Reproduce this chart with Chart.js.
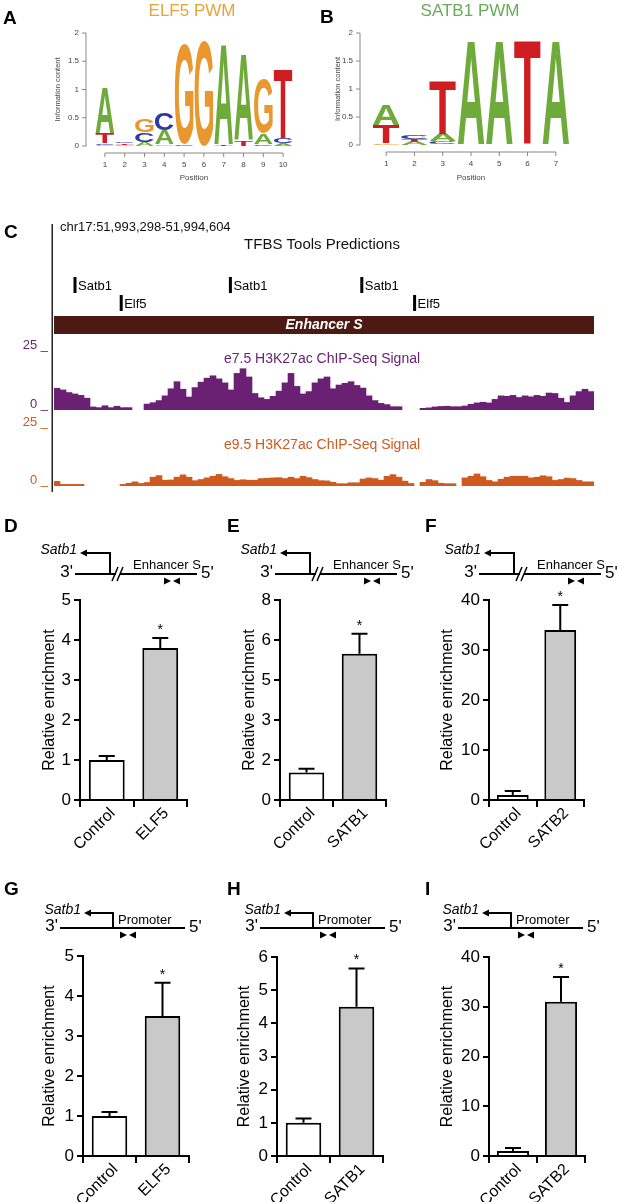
<!DOCTYPE html>
<html>
<head>
<meta charset="utf-8">
<script src="https://cdn.jsdelivr.net/npm/chart.js@4.4.1/dist/chart.umd.min.js"></script>
<style>
  html, body { margin: 0; padding: 0; background: #fff; }
  #fig { position: relative; width: 620px; height: 1202px; overflow: hidden; }
  #fig canvas { position: absolute; left: 0; top: 0; }
</style>
</head>
<body>
<div id="fig"></div>
<script>
const FONT = "'Liberation Sans', Arial, sans-serif";

// ---- A / B: position weight matrices, [bottom, top] in bits for each letter ----
const logoLetters = ['A', 'C', 'G', 'T'];
const logoColors = { A: '#6fab3a', C: '#2f3b9e', G: '#e8982e', T: '#cf1d22' };
const logoTicks = [0, 0.5, 1, 1.5, 2];
const logoTickLabels = ['0', '0.5', '1', '1.5', '2'];

const elf5Positions = ['1', '2', '3', '4', '5', '6', '7', '8', '9', '10'];
const elf5A = [[0.23, 1.03], null, [0, 0.06], [0.03, 0.27], null, null, [0.03, 1.8], [0.1, 1.62], [0.03, 0.22], [0, 0.05]];
const elf5C = [[0.02, 0.04], [0.05, 0.08], [0.07, 0.23], [0.28, 0.58], [0, 0.02], null, null, null, [0, 0.03], [0.06, 0.14]];
const elf5G = [[0, 0.02], [0, 0.02], [0.24, 0.46], [0, 0.03], [0.02, 1.79], [0, 1.86], null, null, [0.23, 1.19], null];
const elf5T = [[0.05, 0.22], [0.02, 0.05], null, null, null, null, [0, 0.03], [0, 0.1], null, [0.15, 1.37]];

const satb1Positions = ['1', '2', '3', '4', '5', '6', '7'];
const satb1A = [[0.36, 0.73], [0, 0.06], [0.07, 0.2], [0.02, 1.88], [0.02, 1.88], null, [0.02, 1.88]];
const satb1C = [null, [0.1, 0.16], [0.02, 0.07], null, null, null, null];
const satb1G = [[0, 0.03], null, null, null, null, null, null];
const satb1T = [[0.03, 0.35], [0.06, 0.1], [0.2, 1.16], null, null, [0.02, 1.88], null];

// ---- C: H3K27ac signal, 90 bins across chr17:51,993,298-51,994,604 ----
const e75Signal = [9.2, 8.5, 7.4, 6.8, 6.2, 5.0, 1.3, 1.0, 1.8, 1.0, 1.6, 1.0, 1.0, null, null,
  2.5, 3.1, 4.0, 6.0, 9.0, 12.0, 8.8, 5.5, 9.5, 11.8,
  13.5, 14.5, 13.2, 11.5, 8.5, 15.5, 17.5, 14.0, 7.0, 5.2,
  4.5, 5.8, 8.0, 11.5, 15.5, 10.0, 6.8, 7.8, 11.5, 13.2,
  14.0, 9.0, 10.6, 11.3, 12.0, 10.4, 9.3, 6.0, 4.0, 2.8,
  2.3, 1.4, 1.4, null, null, null,
  0.7, 0.9, 1.3, 1.5, 1.6, 1.4, 1.4, 1.7, 2.4,
  3.0, 3.3, 3.0, 4.5, 6.0, 5.8, 6.2, 5.3, 6.0, 5.6,
  6.2, 5.8, 7.2, 7.0, 5.0, 3.2, 6.0, 7.8, 8.8, 7.8];
const e95Signal = [2.0, 0.7, 0.7, 0.7, 0.7, null, null, null, null, null, null,
  0.7, 1.2, 1.8, 1.1,
  1.5, 3.8, 4.5, 2.5, 2.6, 3.8, 4.8, 3.8, 2.3, 2.8,
  3.5, 4.2, 5.0, 4.0, 3.2, 2.4, 2.7, 2.5, 2.5, 3.2,
  3.3, 3.5, 3.6, 3.2, 3.8, 3.2, 4.2, 3.6, 2.8, 2.3,
  2.2, 1.6, 1.0, 1.0, 1.4, 1.4, 3.0, 3.5, 3.2, 2.5,
  4.2, 4.9, 3.8, 2.1, 1.1, null,
  1.6, 2.8, 2.3, 1.2, 1.0, 1.0, null,
  3.5, 4.2, 5.2, 4.0, 2.4, 1.8, 2.9, 3.8, 4.2, 4.2, 4.2, 3.5,
  3.8, 4.4, 4.0, 2.4, 2.8, 3.4, 3.2, 2.4, 1.8, 1.8];
const trackBins = e75Signal.map((v, i) => String(i));
const siteNames = ['Satb1', 'Elf5', 'Satb1', 'Satb1', 'Elf5'];
const siteBins = [3.0, 10.7, 28.9, 50.8, 59.6];
const siteRows = [0, 1, 0, 0, 1];

// ---- D-I: ChIP-qPCR relative enrichment ----
const dLabels = ['Control', 'ELF5'];
const dValues = [1.0, 3.8];
const dErrors = [0.1, 0.25];
const dTicks = [0, 1, 2, 3, 4, 5];
const dTickLabels = ['0', '1', '2', '3', '4', '5'];

const eLabels = ['Control', 'SATB1'];
const eValues = [1.1, 5.85];
const eErrors = [0.15, 0.8];
const eTicks = [0, 1.6, 3.2, 4.8, 6.4, 8];
const eTickLabels = ['0', '2', '3', '5', '6', '8'];

const fLabels = ['Control', 'SATB2'];
const fValues = [1.0, 34];
const fErrors = [0.8, 5];
const fTicks = [0, 10, 20, 30, 40];
const fTickLabels = ['0', '10', '20', '30', '40'];

const gLabels = ['Control', 'ELF5'];
const gValues = [1.0, 3.5];
const gErrors = [0.1, 0.83];
const gTicks = [0, 1, 2, 3, 4, 5];
const gTickLabels = ['0', '1', '2', '3', '4', '5'];

const hLabels = ['Control', 'SATB1'];
const hValues = [1.0, 4.5];
const hErrors = [0.13, 1.15];
const hTicks = [0, 1, 2, 3, 4, 5, 6];
const hTickLabels = ['0', '1', '2', '3', '4', '5', '6'];

const iLabels = ['Control', 'SATB2'];
const iValues = [1.0, 31];
const iErrors = [0.6, 5];
const iTicks = [0, 10, 20, 30, 40];
const iTickLabels = ['0', '10', '20', '30', '40'];

const significant = [false, true];

// ---------- helpers ----------
function pageCanvas() {
  const c = document.createElement('canvas');
  c.width = 620;
  c.height = 1202;
  document.getElementById('fig').appendChild(c);
  return c;
}

// place the chart area at a fixed spot of the page
function fixedLayout(area, yW, xH) {
  return {
    autoPadding: false,
    padding: { left: area.l - yW, top: area.t, right: 620 - area.r, bottom: 1202 - area.b - xH }
  };
}

function text(ctx, str, x, y, font, color, align, base) {
  ctx.font = font;
  ctx.fillStyle = color || '#000';
  ctx.textAlign = align || 'left';
  ctx.textBaseline = base || 'middle';
  ctx.fillText(str, x, y);
}

function panelLetter(ctx, ch, x, y) {
  text(ctx, ch, x, y, 'bold 19px ' + FONT, '#000', 'left', 'middle');
}

function drawGlyph(ctx, ch, color, x, y, w, h) {
  ctx.save();
  ctx.font = 'bold 100px ' + FONT;
  const m = ctx.measureText(ch);
  const gw = m.actualBoundingBoxLeft + m.actualBoundingBoxRight;
  const gh = m.actualBoundingBoxAscent + m.actualBoundingBoxDescent;
  ctx.translate(x, y + h);
  ctx.scale(w / gw, h / gh);
  ctx.fillStyle = color;
  ctx.textAlign = 'left';
  ctx.textBaseline = 'alphabetic';
  ctx.fillText(ch, m.actualBoundingBoxLeft, -m.actualBoundingBoxDescent);
  ctx.restore();
}

function triangle(ctx, tipX, tipY, dir, len, half) {
  ctx.beginPath();
  ctx.moveTo(tipX, tipY);
  ctx.lineTo(tipX - dir * len, tipY - half);
  ctx.lineTo(tipX - dir * len, tipY + half);
  ctx.closePath();
  ctx.fill();
}

// ---------- A / B sequence logos ----------
function logoPanel(p) {
  const deco = {
    id: 'logoDeco',
    afterDatasetsDraw(chart) {
      const ctx = chart.ctx;
      chart.data.datasets.forEach((ds, di) => {
        chart.getDatasetMeta(di).data.forEach((bar, i) => {
          if (!ds.data[i]) return;
          const b = bar.getProps(['x', 'y', 'base', 'width'], true);
          const h = Math.abs(b.base - b.y);
          if (h < 0.6) return;
          drawGlyph(ctx, ds.label, logoColors[ds.label], b.x - b.width / 2, Math.min(b.y, b.base), b.width, h);
        });
      });
    },
    afterDraw(chart) {
      const { ctx, chartArea, scales: { x, y } } = chart;
      ctx.save();
      ctx.strokeStyle = '#888';
      ctx.lineWidth = 1;
      ctx.beginPath();
      const ax = chartArea.left - p.gap;
      ctx.moveTo(ax, y.getPixelForValue(0));
      ctx.lineTo(ax, y.getPixelForValue(2));
      logoTicks.forEach(v => {
        const py = y.getPixelForValue(v);
        ctx.moveTo(ax, py);
        ctx.lineTo(ax - 4, py);
      });
      const ay = chartArea.bottom + 7;
      ctx.moveTo(x.getPixelForValue(0), ay);
      ctx.lineTo(x.getPixelForValue(p.labels.length - 1), ay);
      p.labels.forEach((l, i) => {
        const px = x.getPixelForValue(i);
        ctx.moveTo(px, ay);
        ctx.lineTo(px, ay + 4);
      });
      ctx.stroke();
      text(ctx, p.title, p.titleX, 11, '17px ' + FONT, p.titleColor, 'center', 'middle');
      panelLetter(ctx, p.letter, p.letterX, p.letterY);
      ctx.restore();
    }
  };
  return new Chart(pageCanvas(), {
    type: 'bar',
    data: {
      labels: p.labels,
      datasets: logoLetters.map(L => ({
        label: L, data: p.data[L], backgroundColor: 'rgba(0,0,0,0)', borderWidth: 0,
        grouped: false, barPercentage: 1, categoryPercentage: 0.94
      }))
    },
    options: {
      responsive: false, animation: false, events: [],
      layout: fixedLayout(p.area, p.yW, p.xH),
      scales: {
        x: {
          grid: { display: false, drawTicks: false }, border: { display: false },
          ticks: { font: { family: FONT, size: 8 }, color: '#444', padding: 14 },
          title: { display: true, text: 'Position', font: { family: FONT, size: 8 }, color: '#444', padding: 0 },
          afterFit: s => { s.height = p.xH; }
        },
        y: {
          min: 0, max: 2,
          afterBuildTicks: s => { s.ticks = logoTicks.map(v => ({ value: v })); },
          ticks: { callback: (v, i) => logoTickLabels[i], font: { family: FONT, size: 8 }, color: '#444', padding: p.yPad },
          grid: { display: false, drawTicks: false }, border: { display: false },
          title: { display: true, text: 'Information content', font: { family: FONT, size: 7.5 }, color: '#444', padding: 0 },
          afterFit: s => { s.width = p.yW; }
        }
      },
      plugins: { legend: { display: false }, tooltip: { enabled: false } }
    },
    plugins: [deco]
  });
}

logoPanel({
  labels: elf5Positions, data: { A: elf5A, C: elf5C, G: elf5G, T: elf5T },
  area: { l: 95, t: 33, r: 293, b: 146 }, yW: 42, xH: 37, yPad: 16, gap: 9,
  title: 'ELF5 PWM', titleX: 192, titleColor: '#e6a43c', letter: 'A', letterX: 3, letterY: 19
});
logoPanel({
  labels: satb1Positions, data: { A: satb1A, C: satb1C, G: satb1G, T: satb1T },
  area: { l: 372, t: 33, r: 570, b: 145 }, yW: 39, xH: 38, yPad: 19, gap: 12,
  title: 'SATB1 PWM', titleX: 470, titleColor: '#6aab5a', letter: 'B', letterX: 320, letterY: 18
});

// ---------- C: genome browser tracks ----------
const PURPLE = '#6a2174';
const ORANGE = '#cf5a1f';

function trackPanel(values, color, area, deco) {
  return new Chart(pageCanvas(), {
    type: 'bar',
    data: {
      labels: trackBins,
      datasets: [{ data: values, backgroundColor: color, borderWidth: 0, barPercentage: 1, categoryPercentage: 1 }]
    },
    options: {
      responsive: false, animation: false, events: [],
      layout: fixedLayout(area, 0, 0),
      scales: {
        x: { display: false },
        y: { display: false, min: 0, max: 25 }
      },
      plugins: { legend: { display: false }, tooltip: { enabled: false } }
    },
    plugins: deco ? [deco] : []
  });
}

const browserDeco = {
  id: 'browserDeco',
  afterDraw(chart) {
    const { ctx, chartArea, scales: { x, y } } = chart;
    ctx.save();
    panelLetter(ctx, 'C', 4, 233);
    ctx.fillStyle = '#222';
    ctx.fillRect(51.5, 224, 1.5, 268);
    text(ctx, 'chr17:51,993,298-51,994,604', 60, 227, '13px ' + FONT, '#111', 'left', 'middle');
    text(ctx, 'TFBS Tools Predictions', 322, 245, '15px ' + FONT, '#111', 'center', 'middle');
    siteNames.forEach((name, i) => {
      const px = x.getPixelForValue(siteBins[i]);
      const yTop = siteRows[i] === 0 ? 277 : 295;
      ctx.fillStyle = '#000';
      ctx.fillRect(px - 1.5, yTop, 3, 16);
      text(ctx, name, px + 3, yTop + 9, '13px ' + FONT, '#000', 'left', 'middle');
    });
    // Enhancer S spans the whole window
    ctx.fillStyle = '#4b1a12';
    ctx.fillRect(chartArea.left, 316, chartArea.right - chartArea.left, 18);
    text(ctx, 'Enhancer S', (chartArea.left + chartArea.right) / 2, 325.5, 'bold italic 14px ' + FONT, '#fff', 'center', 'middle');
    text(ctx, '25 _', 48, y.getPixelForValue(25) - 2, '13px ' + FONT, PURPLE, 'right', 'alphabetic');
    text(ctx, '0 _', 48, y.getPixelForValue(0) - 2, '13px ' + FONT, PURPLE, 'right', 'alphabetic');
    text(ctx, 'e7.5 H3K27ac ChIP-Seq Signal', 322, 359, '14px ' + FONT, PURPLE, 'center', 'middle');
    ctx.restore();
  }
};
const orangeDeco = {
  id: 'orangeDeco',
  afterDraw(chart) {
    const { ctx, scales: { y } } = chart;
    ctx.save();
    text(ctx, '25 _', 48, y.getPixelForValue(25) - 2, '13px ' + FONT, ORANGE, 'right', 'alphabetic');
    text(ctx, '0 _', 48, y.getPixelForValue(0) - 2, '13px ' + FONT, ORANGE, 'right', 'alphabetic');
    text(ctx, 'e9.5 H3K27ac ChIP-Seq Signal', 322, 445, '14px ' + FONT, ORANGE, 'center', 'middle');
    ctx.restore();
  }
};
trackPanel(e75Signal, PURPLE, { l: 54, t: 351, r: 594, b: 410 }, browserDeco);
trackPanel(e95Signal, ORANGE, { l: 54, t: 428, r: 594, b: 486 }, orangeDeco);

// ---------- D-I: bar charts with error bars ----------
function drawGeneDiagram(ctx, kind, xs, yl) {
  ctx.save();
  ctx.strokeStyle = '#000';
  ctx.fillStyle = '#000';
  ctx.lineWidth = 2;
  const enh = kind === 'enh';
  const len = enh ? 122 : 125;
  const tss = enh ? 35 : 53;
  const tip = enh ? 5 : 24;
  const rise = enh ? 21 : 15;
  ctx.beginPath();
  ctx.moveTo(xs, yl);
  ctx.lineTo(xs + len, yl);
  ctx.moveTo(xs + tss, yl);
  ctx.lineTo(xs + tss, yl - rise);
  ctx.lineTo(xs + tip + 5, yl - rise);
  ctx.stroke();
  triangle(ctx, xs + tip, yl - rise, -1, 7, 3.5);
  text(ctx, 'Satb1', xs + tip - 3, yl - rise + 1, 'italic 14px ' + FONT, '#000', 'right', 'alphabetic');
  text(ctx, "3'", xs - 2, yl - 2, '17px ' + FONT, '#000', 'right', 'middle');
  text(ctx, "5'", xs + len + 4, yl - 1, '17px ' + FONT, '#000', 'left', 'middle');
  let mid;
  if (enh) {
    const bx = xs + 43;
    ctx.clearRect(bx - 2, yl - 2, 4, 4);
    ctx.beginPath();
    ctx.lineWidth = 1.5;
    ctx.moveTo(bx - 6, yl + 7); ctx.lineTo(bx, yl - 7);
    ctx.moveTo(bx - 1, yl + 7); ctx.lineTo(bx + 5, yl - 7);
    ctx.stroke();
    text(ctx, 'Enhancer S', xs + 58, yl - 9, '13px ' + FONT, '#000', 'left', 'middle');
    mid = xs + 97;
  } else {
    text(ctx, 'Promoter', xs + 58, yl - 8, '13px ' + FONT, '#000', 'left', 'middle');
    mid = xs + 68;
  }
  triangle(ctx, mid - 1, yl + 7, 1, 7, 3.5);
  triangle(ctx, mid + 1, yl + 7, -1, 7, 3.5);
  ctx.restore();
}

function barPanel(p) {
  const deco = {
    id: 'barDeco',
    afterDraw(chart) {
      const { ctx, scales: { y } } = chart;
      ctx.save();
      ctx.strokeStyle = '#000';
      ctx.fillStyle = '#000';
      ctx.lineWidth = 2;
      chart.getDatasetMeta(0).data.forEach((bar, i) => {
        const top = y.getPixelForValue(p.values[i] + p.errors[i]);
        ctx.beginPath();
        ctx.moveTo(bar.x, bar.y);
        ctx.lineTo(bar.x, top);
        ctx.moveTo(bar.x - 8, top);
        ctx.lineTo(bar.x + 8, top);
        ctx.stroke();
        if (significant[i]) text(ctx, '*', bar.x, top - 8, '14px ' + FONT, '#000', 'center', 'middle');
      });
      panelLetter(ctx, p.letter, p.letterX, p.letterY);
      drawGeneDiagram(ctx, p.kind, p.xs, p.yl);
      ctx.restore();
    }
  };
  return new Chart(pageCanvas(), {
    type: 'bar',
    data: {
      labels: p.labels,
      datasets: [{
        data: p.values, backgroundColor: ['#ffffff', '#c9c9c9'], borderColor: '#000',
        borderWidth: 2, borderSkipped: 'bottom', barPercentage: 0.67, categoryPercentage: 1
      }]
    },
    options: {
      responsive: false, animation: false, events: [],
      layout: fixedLayout(p.area, p.yW, 70),
      scales: {
        x: {
          grid: { display: true, drawOnChartArea: false, offset: true, tickLength: 7, color: '#000', lineWidth: 2 },
          border: { display: true, color: '#000', width: 2 },
          ticks: { autoSkip: false, minRotation: 45, maxRotation: 45, labelOffset: 6, font: { family: FONT, size: 16 }, color: '#000', padding: -3 },
          afterFit: s => { s.height = 70; }
        },
        y: {
          min: 0, max: p.ticks[p.ticks.length - 1],
          afterBuildTicks: s => { s.ticks = p.ticks.map(v => ({ value: v })); },
          ticks: { callback: (v, i) => p.tickLabels[i], font: { family: FONT, size: 17 }, color: '#000', padding: 3 },
          grid: { drawOnChartArea: false, tickLength: 6, color: '#000', lineWidth: 2 },
          border: { color: '#000', width: 2 },
          title: { display: true, text: 'Relative enrichment', font: { family: FONT, size: 16 }, color: '#000', padding: 0 },
          afterFit: s => { s.width = p.yW; }
        }
      },
      plugins: { legend: { display: false }, tooltip: { enabled: false } }
    },
    plugins: [deco]
  });
}

barPanel({ labels: dLabels, values: dValues, errors: dErrors, ticks: dTicks, tickLabels: dTickLabels,
  area: { l: 80, t: 600, r: 187, b: 800 }, yW: 40, letter: 'D', letterX: 4, letterY: 527, kind: 'enh', xs: 75, yl: 574 });
barPanel({ labels: eLabels, values: eValues, errors: eErrors, ticks: eTicks, tickLabels: eTickLabels,
  area: { l: 280, t: 600, r: 386, b: 800 }, yW: 40, letter: 'E', letterX: 227, letterY: 527, kind: 'enh', xs: 275, yl: 574 });
barPanel({ labels: fLabels, values: fValues, errors: fErrors, ticks: fTicks, tickLabels: fTickLabels,
  area: { l: 489, t: 600, r: 584, b: 800 }, yW: 51, letter: 'F', letterX: 425, letterY: 527, kind: 'enh', xs: 479, yl: 574 });
barPanel({ labels: gLabels, values: gValues, errors: gErrors, ticks: gTicks, tickLabels: gTickLabels,
  area: { l: 83, t: 956, r: 189, b: 1156 }, yW: 43, letter: 'G', letterX: 4, letterY: 890, kind: 'prom', xs: 60, yl: 928 });
barPanel({ labels: hLabels, values: hValues, errors: hErrors, ticks: hTicks, tickLabels: hTickLabels,
  area: { l: 277, t: 957, r: 383, b: 1156 }, yW: 42, letter: 'H', letterX: 227, letterY: 890, kind: 'prom', xs: 260, yl: 928 });
barPanel({ labels: iLabels, values: iValues, errors: iErrors, ticks: iTicks, tickLabels: iTickLabels,
  area: { l: 489, t: 957, r: 585, b: 1156 }, yW: 51, letter: 'I', letterX: 425, letterY: 890, kind: 'prom', xs: 458, yl: 928 });
</script>
</body>
</html>
